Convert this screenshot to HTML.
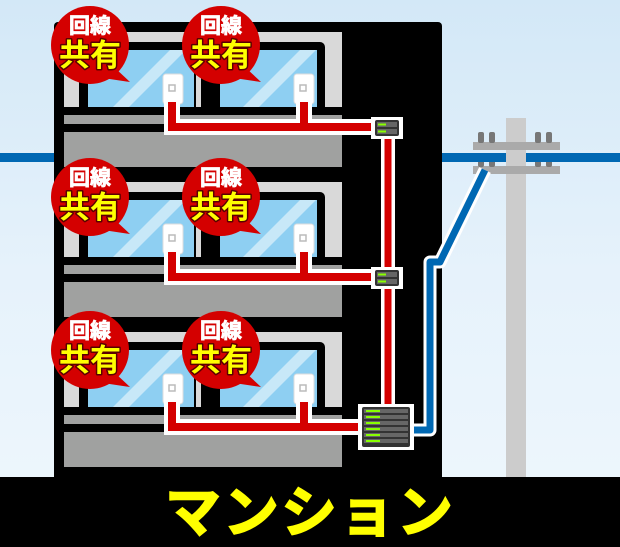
<!DOCTYPE html>
<html><head><meta charset="utf-8"><style>
html,body{margin:0;padding:0;width:620px;height:547px;overflow:hidden}
svg{display:block}
.t{font-family:"Liberation Sans","Noto Sans CJK JP",sans-serif;font-weight:bold;text-anchor:middle}
</style></head><body>
<svg width="620" height="547" viewBox="0 0 620 547" xmlns="http://www.w3.org/2000/svg">
<defs>
<linearGradient id="sky" x1="0" y1="0" x2="0" y2="1">
<stop offset="0" stop-color="#d3e8f7"/><stop offset="0.5" stop-color="#e6f2fb"/><stop offset="1" stop-color="#eff7fd"/>
</linearGradient>
<g id="floor">
<rect x="64" y="32" width="278" height="75" fill="#d9d9d9"/>
<rect x="79" y="42" width="246" height="70" rx="5" fill="#000"/>
<rect x="88" y="50" width="106" height="60" fill="#8ecff2"/>
<rect x="220" y="50" width="97" height="60" fill="#8ecff2"/>
<polygon points="110,110 170,50 186,50 126,110" fill="#c8e8f8"/>
<polygon points="240,110 300,50 316,50 256,110" fill="#c8e8f8"/>
<rect x="196" y="42" width="5" height="68" fill="#d9d9d9"/>
<rect x="64" y="107" width="278" height="8" fill="#000"/>
<rect x="64" y="115" width="278" height="9" fill="#a0a1a0"/>
<rect x="64" y="132" width="278" height="35" fill="#a0a1a0"/>
<rect x="163" y="74" width="20" height="30" rx="3" fill="#fff" stroke="#ddd"/>
<rect x="169" y="85" width="6" height="6" fill="#fff" stroke="#bbb" stroke-width="1.5"/>
<rect x="294" y="74" width="20" height="30" rx="3" fill="#fff" stroke="#ddd"/>
<rect x="300" y="85" width="6" height="6" fill="#fff" stroke="#bbb" stroke-width="1.5"/>
<path d="M172,102 V127 H380 M304,102 V127" stroke="#fff" stroke-width="16" fill="none"/>
<path d="M172,102 V127 H380 M304,102 V127" stroke="#d40000" stroke-width="8" fill="none"/>
</g>
<g id="bub">
<path d="M115,68 L130,82 L103,78 Z" fill="#d40000"/>
<circle cx="90" cy="45" r="39" fill="#d40000"/>
<text x="90" y="33" class="t" font-size="21" fill="#fff" stroke="#fff" stroke-width="0.8">回線</text>
<text x="90" y="66" class="t" font-size="31" fill="#ffff00" stroke="#5a0000" stroke-width="3" paint-order="stroke" stroke-linejoin="round">共有</text>
</g>
<g id="sw">
<rect x="371" y="117" width="32" height="22" fill="#fff"/>
<rect x="375" y="120" width="24" height="16" rx="2" fill="#333"/>
<rect x="377" y="122" width="20" height="5" fill="#666"/>
<rect x="377" y="129" width="20" height="5" fill="#666"/>
<rect x="378" y="123.5" width="8" height="2" fill="#8f0"/>
<rect x="378" y="130.5" width="8" height="2" fill="#8f0"/>
</g>
</defs>
<rect width="620" height="547" fill="url(#sky)"/>
<rect x="0" y="153" width="620" height="9" fill="#0068b3"/>
<!-- pole -->
<rect x="506" y="118" width="20" height="360" fill="#cccccc"/>
<rect x="473" y="142" width="87" height="8" fill="#aaa"/>
<rect x="473" y="166" width="87" height="8" fill="#aaa"/>
<g fill="#777">
<rect x="478" y="132" width="6" height="11" rx="2"/><rect x="489" y="132" width="6" height="11" rx="2"/>
<rect x="535" y="132" width="6" height="11" rx="2"/><rect x="546" y="132" width="6" height="11" rx="2"/>
<rect x="478" y="156" width="6" height="11" rx="2"/><rect x="489" y="156" width="6" height="11" rx="2"/>
<rect x="535" y="156" width="6" height="11" rx="2"/><rect x="546" y="156" width="6" height="11" rx="2"/>
</g>
<rect x="473" y="153" width="33" height="9" fill="#0068b3"/><rect x="526" y="153" width="94" height="9" fill="#0068b3"/>
<!-- building -->
<rect x="54" y="22" width="388" height="470" rx="4" fill="#000"/>
<use href="#floor"/>
<use href="#floor" y="150"/>
<use href="#floor" y="300"/>
<path d="M388,127 V412" stroke="#fff" stroke-width="14" fill="none"/>
<path d="M388,127 V412" stroke="#d40000" stroke-width="7" fill="none"/>
<use href="#sw"/><use href="#sw" y="150"/>
<!-- blue cable -->
<path d="M405,430 H430 V262 H440 L485,170" stroke="#fff" stroke-width="13" fill="none" stroke-linejoin="round"/>
<path d="M405,430 H430 V262 H440 L485,170" stroke="#0068b3" stroke-width="7" fill="none" stroke-linejoin="round"/>
<!-- server -->
<rect x="358" y="404" width="56" height="46" fill="#fff"/>
<rect x="362" y="407" width="48" height="40" rx="2" fill="#333"/>
<g fill="#666"><rect x="364" y="409" width="44" height="4"/><rect x="364" y="415" width="44" height="4"/><rect x="364" y="421" width="44" height="4"/><rect x="364" y="427" width="44" height="4"/><rect x="364" y="433" width="44" height="4"/><rect x="364" y="439" width="44" height="4"/></g>
<g fill="#8f0"><rect x="366" y="410" width="14" height="2"/><rect x="366" y="416" width="14" height="2"/><rect x="366" y="422" width="14" height="2"/><rect x="366" y="428" width="14" height="2"/><rect x="366" y="434" width="14" height="2"/><rect x="366" y="440" width="14" height="2"/></g>
<!-- bubbles -->
<use href="#bub"/><use href="#bub" x="131"/>
<use href="#bub" y="152"/><use href="#bub" x="131" y="152"/>
<use href="#bub" y="305"/><use href="#bub" x="131" y="305"/>
<!-- bottom -->
<rect x="0" y="477" width="620" height="70" fill="#000"/>
<text x="310" y="532" class="t" font-size="56" fill="#ffff00" stroke="#ffff00" stroke-width="1.5" letter-spacing="2">マンション</text>
</svg>
</body></html>
